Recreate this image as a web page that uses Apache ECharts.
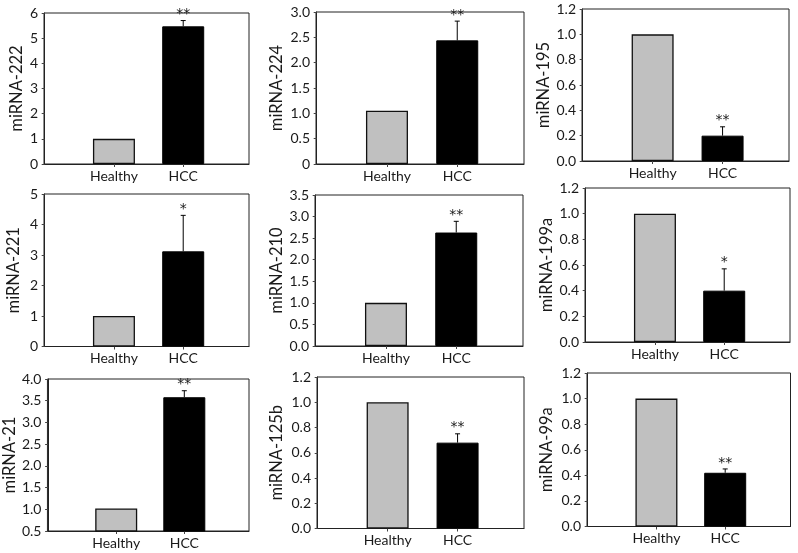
<!DOCTYPE html>
<html><head><meta charset="utf-8">
<script src="https://cdn.jsdelivr.net/npm/echarts@6/dist/echarts.min.js"></script>
<style>html,body{margin:0;padding:0;background:#fff}#c{width:798px;height:553px}</style>
</head><body><div id="c"></div>
<script>
// ---- data ----
const groups = ['Healthy', 'HCC'];
const yNames = ['miRNA-222','miRNA-224','miRNA-195','miRNA-221','miRNA-210','miRNA-199a','miRNA-21','miRNA-125b','miRNA-99a'];
const healthyValues = [1.0, 1.05, 1.0, 1.0, 1.0, 1.0, 1.02, 1.0, 1.0];
const hccValues = [5.47, 2.44, 0.20, 3.12, 2.63, 0.40, 3.58, 0.68, 0.42];
const hccErrors = [0.23, 0.38, 0.07, 1.18, 0.26, 0.17, 0.15, 0.07, 0.03];
const stars = ['**','**','**','*','**','*','**','**','**'];
const yMins = [0, 0, 0, 0, 0, 0, 0.5, 0, 0];
const yMaxs = [6, 3, 1.2, 5, 3.5, 1.2, 4, 1.2, 1.2];
const yIntervals = [1, 0.5, 0.2, 1, 0.5, 0.2, 0.5, 0.2, 0.2];
const tickDecimals = [0, 1, 1, 0, 1, 1, 1, 1, 1];
const plainZero = [false, true, false, false, false, false, false, false, false];

// ---- layout (plot boxes) ----
const boxes = [
  [44, 13, 205, 151], [316, 12, 208, 152], [582, 9, 207, 152],
  [44, 194, 205, 152.5], [315, 195, 208, 151], [585, 188, 205, 154],
  [44, 379, 205, 152], [317, 377, 207, 151.5], [587, 373, 203.5, 153.5]
];
const nameGaps = [19, 31, 27, 22, 30, 29, 22, 32, 32];
const FONT = 'Lato, "Open Sans", sans-serif';

const grid = [], xAxis = [], yAxis = [], series = [];
boxes.forEach((b, i) => {
  grid.push({left: b[0], top: b[1], width: b[2], height: b[3], show: true,
    borderColor: '#222', borderWidth: 1, backgroundColor: 'transparent'});
  xAxis.push({type: 'value', gridIndex: i, min: -0.01, max: 2.95,
    splitLine: {show: false},
    axisLine: {show: true, lineStyle: {color: '#222', width: 1}},
    axisTick: {show: true, customValues: [1, 2], length: 3, lineStyle: {color: '#444'}},
    axisLabel: {customValues: [1, 2], formatter: v => groups[Math.round(v) - 1] || '',
      color: '#1a1a1a', fontSize: 14, fontFamily: FONT, margin: 5}
  });
  yAxis.push({type: 'value', gridIndex: i, min: yMins[i], max: yMaxs[i], interval: yIntervals[i],
    name: yNames[i], nameLocation: 'middle', nameGap: nameGaps[i],
    nameTextStyle: {fontSize: 16.5, fontFamily: FONT, color: '#1a1a1a'},
    splitLine: {show: false},
    axisLine: {show: true, lineStyle: {color: '#222', width: 1}},
    axisTick: {show: true, length: 3, lineStyle: {color: '#444'}},
    axisLabel: {color: '#1a1a1a', fontSize: 14, fontFamily: FONT, margin: 6,
      formatter: v => (plainZero[i] && v === 0) ? '0' : v.toFixed(tickDecimals[i])}
  });
  series.push({type: 'bar', xAxisIndex: i, yAxisIndex: i, barWidth: 42,
    data: [
      {value: [1, healthyValues[i]], itemStyle: {color: '#c0c0c0', borderColor: '#111', borderWidth: 1.3}},
      {value: [2, hccValues[i]], itemStyle: {color: '#000', borderColor: '#000', borderWidth: 1}}
    ], silent: true, animation: false});
  series.push({type: 'custom', xAxisIndex: i, yAxisIndex: i, silent: true, animation: false,
    data: [[2, hccValues[i], hccErrors[i]]],
    renderItem: (params, api) => {
      const x = api.value(0), m = api.value(1), e = api.value(2);
      const p0 = api.coord([x, m]), p1 = api.coord([x, m + e]);
      return {type: 'group', children: [
        {type: 'line', shape: {x1: p0[0], y1: p0[1], x2: p1[0], y2: p1[1]}, style: {stroke: '#000', lineWidth: 1}},
        {type: 'line', shape: {x1: p1[0] - 2.5, y1: p1[1], x2: p1[0] + 2.5, y2: p1[1]}, style: {stroke: '#000', lineWidth: 1}},
        {type: 'text', style: {text: stars[i], x: p1[0], y: p1[1] + 1,
          textAlign: 'center', textVerticalAlign: 'bottom', font: '14px "DejaVu Sans", sans-serif', fill: '#1a1a1a'}}
      ]};
    }});
});

const chart = echarts.init(document.getElementById('c'), null, {renderer: 'canvas'});
chart.setOption({animation: false, grid, xAxis, yAxis, series});
</script></body></html>
